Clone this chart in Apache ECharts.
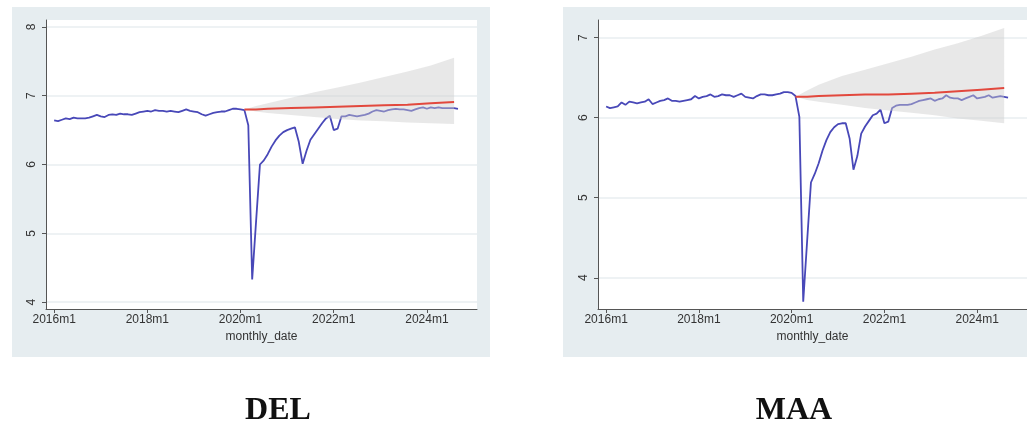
<!DOCTYPE html>
<html><head><meta charset="utf-8">
<script src="https://cdn.jsdelivr.net/npm/echarts@6/dist/echarts.min.js"></script>
<style>html,body{margin:0;padding:0;background:#fff}#c{width:1027px;height:428px}</style>
</head><body><div id="c"></div>
<script>
// ---- data ----
const xTickMonths = [0, 24, 48, 72, 96];          // months since 2016m1
const xTickLabels = ['2016m1', '2018m1', '2020m1', '2022m1', '2024m1'];
const delTicks = [4, 5, 6, 7, 8];
const maaTicks = [4, 5, 6, 7];
const panelTitles = ['DEL', 'MAA'];

// monthly actual (log) values, 2016m1 .. 2024m9
const delActual = [
 6.64,6.63,6.65,6.67,6.66,6.68,6.67,6.67,6.67,6.68,6.70,6.72,
 6.70,6.69,6.72,6.73,6.72,6.74,6.73,6.73,6.72,6.74,6.76,6.77,
 6.78,6.77,6.79,6.78,6.78,6.77,6.78,6.77,6.76,6.78,6.80,6.78,
 6.77,6.76,6.73,6.71,6.73,6.75,6.76,6.77,6.77,6.79,6.81,6.81,
 6.80,6.79,6.57,4.33,5.17,6.00,6.06,6.15,6.26,6.35,6.42,6.47,
 6.50,6.52,6.54,6.33,6.01,6.20,6.36,6.44,6.52,6.60,6.67,6.71,
 6.50,6.52,6.70,6.70,6.72,6.71,6.70,6.71,6.72,6.74,6.77,6.79,
 6.78,6.77,6.79,6.80,6.81,6.80,6.80,6.79,6.78,6.80,6.82,6.83,
 6.81,6.83,6.82,6.83,6.82,6.82,6.82,6.82,6.81
];
const maaActual = [
 6.14,6.12,6.13,6.14,6.19,6.16,6.20,6.19,6.18,6.19,6.20,6.23,
 6.17,6.19,6.21,6.22,6.24,6.21,6.21,6.20,6.21,6.22,6.23,6.27,
 6.24,6.26,6.27,6.29,6.26,6.27,6.29,6.28,6.28,6.26,6.28,6.30,
 6.26,6.25,6.24,6.27,6.29,6.29,6.28,6.28,6.29,6.30,6.32,6.32,
 6.31,6.27,6.01,3.70,4.45,5.19,5.30,5.43,5.59,5.72,5.82,5.88,
 5.92,5.93,5.93,5.74,5.35,5.52,5.80,5.89,5.96,6.03,6.05,6.10,
 5.93,5.95,6.12,6.15,6.16,6.16,6.16,6.17,6.19,6.21,6.22,6.23,
 6.24,6.21,6.23,6.24,6.28,6.25,6.24,6.24,6.22,6.24,6.26,6.28,
 6.24,6.25,6.26,6.28,6.25,6.26,6.27,6.26,6.25
];

// forecast (from 2020m2) and its confidence band
const fcMonths    = [49, 52, 55, 61, 67, 73, 79, 85, 91, 97, 103];
const delForecast = [6.80, 6.80, 6.81, 6.82, 6.83, 6.84, 6.85, 6.86, 6.87, 6.89, 6.91];
const delUpper    = [6.80, 6.85, 6.89, 6.97, 7.05, 7.12, 7.19, 7.27, 7.35, 7.44, 7.55];
const delLower    = [6.80, 6.77, 6.75, 6.72, 6.69, 6.66, 6.64, 6.63, 6.61, 6.60, 6.59];
const maaForecast = [6.26, 6.26, 6.27, 6.28, 6.29, 6.29, 6.30, 6.31, 6.33, 6.35, 6.37];
const maaUpper    = [6.26, 6.34, 6.41, 6.52, 6.60, 6.68, 6.76, 6.85, 6.93, 7.02, 7.12];
const maaLower    = [6.26, 6.22, 6.20, 6.16, 6.12, 6.09, 6.06, 6.03, 5.99, 5.96, 5.93];

// ---- chart ----
const chart = echarts.init(document.getElementById('c'));
const SANS = '"Liberation Sans", Arial, sans-serif';
const panels = [
  {actual: delActual, fc: delForecast, up: delUpper, lo: delLower, ticks: delTicks, min: 3.9, max: 8.1, left: 46, bgX: 12},
  {actual: maaActual, fc: maaForecast, up: maaUpper, lo: maaLower, ticks: maaTicks, min: 3.61, max: 7.22, left: 598, bgX: 563}
];

const grids = [], xAxes = [], yAxes = [], series = [], graphics = [];
panels.forEach((p, i) => {
  grids.push({left: p.left, top: 20, width: 431, height: 289, show: true, backgroundColor: '#ffffff', borderWidth: 0});
  xAxes.push({
    gridIndex: i, type: 'value', min: -2.1, max: 108.9,
    axisLine: {show: true, onZero: false, lineStyle: {color: '#555', width: 1}},
    axisTick: {show: true, length: 4, customValues: xTickMonths, lineStyle: {color: '#555'}},
    axisLabel: {customValues: xTickMonths, margin: 5, fontSize: 12, color: '#333', fontFamily: SANS,
      formatter: v => xTickLabels[xTickMonths.indexOf(v)] || ''},
    splitLine: {show: false},
    name: 'monthly_date', nameLocation: 'middle', nameGap: 19,
    nameTextStyle: {fontSize: 12, color: '#333', fontFamily: SANS}
  });
  yAxes.push({
    gridIndex: i, type: 'value', min: p.min, max: p.max,
    axisLine: {show: true, onZero: false, lineStyle: {color: '#555', width: 1}},
    axisTick: {show: true, length: 4, customValues: p.ticks, lineStyle: {color: '#555'}},
    axisLabel: {customValues: p.ticks, rotate: 90, margin: 8, fontSize: 12, color: '#333', fontFamily: SANS},
    splitLine: {show: true, lineStyle: {color: '#eef2f4', width: 2}}
  });
  series.push({
    type: 'line', xAxisIndex: i, yAxisIndex: i, z: 2,
    data: p.actual.map((v, k) => [k, v]),
    showSymbol: false, symbol: 'none', animation: false,
    lineStyle: {color: '#4848b8', width: 1.8}
  });
  series.push({
    type: 'custom', xAxisIndex: i, yAxisIndex: i, z: 3, animation: false, silent: true,
    data: [[fcMonths[0], p.lo[0]]],
    renderItem: (params, api) => {
      const pts = fcMonths.map((m, k) => api.coord([m, p.up[k]]))
        .concat(fcMonths.slice().reverse().map((m, k) => api.coord([m, p.lo[fcMonths.length - 1 - k]])));
      return {type: 'polygon', shape: {points: pts}, style: {fill: 'rgba(205,205,205,0.45)'}};
    }
  });
  series.push({
    type: 'line', xAxisIndex: i, yAxisIndex: i, z: 4,
    data: fcMonths.map((m, k) => [m, p.fc[k]]),
    showSymbol: false, symbol: 'none', animation: false,
    lineStyle: {color: '#e2483d', width: 2}
  });
  graphics.push({type: 'rect', z: -10, shape: {x: p.bgX, y: 7, width: 478, height: 350}, style: {fill: '#e6edf0'}});
});

const titleX = [278, 794];
panelTitles.forEach((t, i) => {
  graphics.push({type: 'text', x: titleX[i], y: 411, z: 10,
    style: {text: t, font: 'bold 32px "Liberation Serif", "Times New Roman", serif',
      fill: '#111', align: 'center', verticalAlign: 'middle', textAlign: 'center', textVerticalAlign: 'middle'}});
});

chart.setOption({
  animation: false,
  backgroundColor: '#ffffff',
  grid: grids, xAxis: xAxes, yAxis: yAxes, series: series,
  graphic: graphics
});
</script>
</body></html>
